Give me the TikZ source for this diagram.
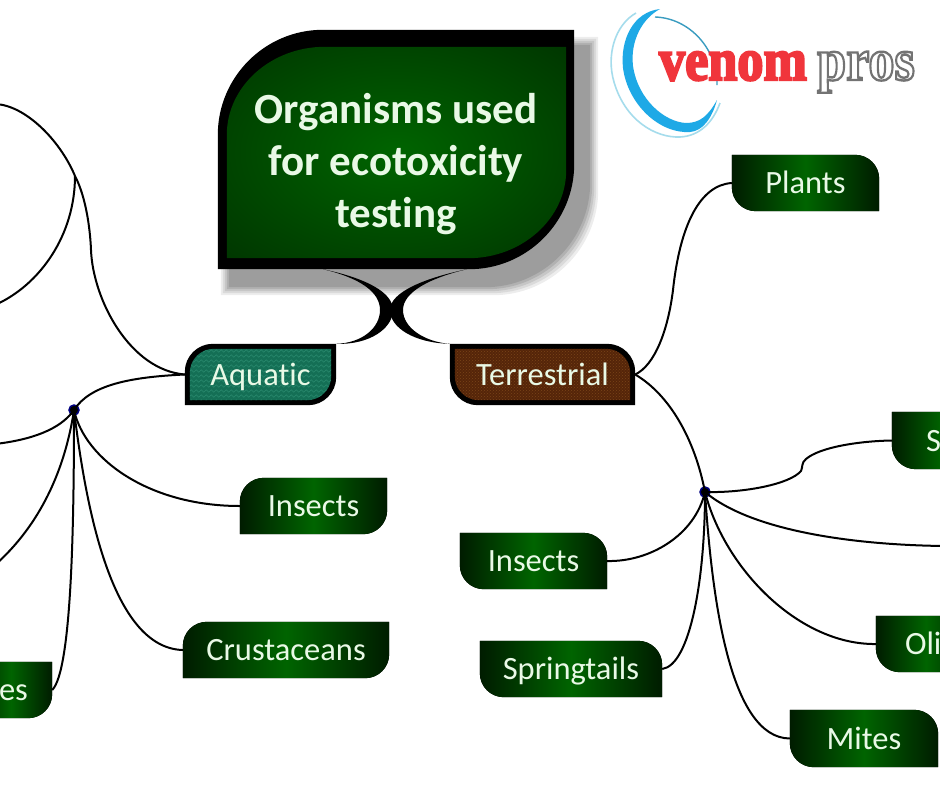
\documentclass[tikz,border=0pt]{standalone}
\usepackage{fontspec}
\usepackage{xcolor}
\usetikzlibrary{backgrounds, calc, patterns, decorations.pathmorphing}
\setmainfont[Ligatures=NoCommon]{Carlito}
\newfontfamily\logofont[FakeBold=4]{Liberation Serif}
\definecolor{leafbright}{HTML}{006400}
\definecolor{leafdark}{HTML}{002400}
\definecolor{leafedge}{HTML}{001C00}
\definecolor{leaftext}{HTML}{E9F9E6}
\definecolor{aquaticfill}{HTML}{146F55}
\definecolor{aquaticzig}{HTML}{2A8A6E}
\definecolor{terrafill}{HTML}{552509}
\definecolor{terradot}{HTML}{7A4418}
\definecolor{logoblue}{HTML}{1EA9E6}
\definecolor{logoteal}{HTML}{3A9CC0}
\definecolor{logolight}{HTML}{A5DCEC}
\definecolor{logored}{HTML}{F0353B}
\pgfdeclareradialshading{leafglow}{\pgfpointorigin}{color(0bp)=(leafbright); color(50bp)=(leafdark)}
% top left and bottom right corners round
\newcommand{\leafpathl}[4]{($(#1)+(0,#4)$) .. controls ($(#1)+(0,#4*.45)$) and ($(#1)+(#3*.45,0)$) .. ($(#1)+(#3,0)$) -- (#1 -| #2) -- ($(#2)+(0,-#4)$) .. controls ($(#2)+(0,-#4*.45)$) and ($(#2)+(-#3*.45,0)$) .. ($(#2)+(-#3,0)$) -- (#1 |- #2) -- cycle}
% top right and bottom left corners round
\newcommand{\leafpathr}[4]{(#1) -- ($(#1 -| #2)+(-#3,0)$) .. controls ($(#1 -| #2)+(-#3*.45,0)$) and ($(#1 -| #2)+(0,#4*.45)$) .. ($(#1 -| #2)+(0,#4)$) -- (#2) -- ($(#1 |- #2)+(#3,0)$) .. controls ($(#1 |- #2)+(#3*.45,0)$) and ($(#1 |- #2)+(0,-#4*.45)$) .. ($(#1 |- #2)+(0,-#4)$) -- cycle}
\begin{document}
\begin{tikzpicture}[x=1pt, y=-1pt,
  leaf/.style={minimum height=56pt, inner sep=0pt, text=leaftext, text height=27pt, text depth=6pt, font=\fontsize{32.5}{34}\selectfont},
  leaffill/.style={left color=leafedge, right color=leafedge, middle color=leafbright},
  link/.style={black, line width=2pt},
  hub/.style={circle, fill=black, draw=blue!50!black, line width=1.5pt, minimum size=10pt, inner sep=0pt},
  logotext/.style={inner sep=0pt, anchor=base, font=\logofont\bfseries\fontsize{60}{60}\selectfont, xscale=.87, transform shape}
]
\useasboundingbox (0,0) rectangle (940,788);
\clip (0,0) rectangle (940,788);

% leaves
\node[minimum width=356pt, minimum height=239pt, inner sep=0pt, align=center, text=leaftext, font=\bfseries\fontsize{43}{52}\selectfont] (title) at (396,149.5) {\rule{0pt}{60pt}Organisms used\\for ecotoxicity\\testing};
\node[leaf, minimum width=151pt, minimum height=61pt] (aquatic) at (260.5,374.5) {Aquatic};
\node[leaf, minimum width=185pt, minimum height=61pt] (terra) at (542.5,374.5) {Terrestrial};
\node[leaf, minimum width=147pt] (plants) at (805.5,183) {Plants};
\node[leaf, minimum width=147pt] (insa) at (313.5,506) {Insects};
\node[leaf, minimum width=206pt] (crust) at (286,650) {Crustaceans};
\node[leaf, minimum width=82pt, align=right, text width=24pt, inner xsep=29pt] (es) at (11,690) {es};
\node[leaf, minimum width=147pt] (insb) at (533.5,561) {Insects};
\node[leaf, minimum width=182pt] (spring) at (571,669) {Springtails};
\node[leaf, minimum width=148pt, minimum height=57pt] (mites) at (864,738.5) {Mites};
\node[leaf, minimum width=100pt, align=left, text width=42pt, inner xsep=29pt] (oli) at (926,644) {Oli};
\node[leaf, minimum width=100pt, align=left, text width=32pt, inner xsep=34pt, minimum height=57pt] (soil) at (942,440.5) {S};

\coordinate (titlenw) at ($(title.north west)+(9,17)$);
\coordinate (titlese) at ($(title.south east)+(-8,-11)$);
\coordinate (aquanw) at ($(aquatic.north west)+(5,5)$);
\coordinate (aquase) at ($(aquatic.south east)+(-5,-5)$);
\coordinate (terranw) at ($(terra.north west)+(5,5)$);
\coordinate (terrase) at ($(terra.south east)+(-5,-5)$);

% fills
\begin{scope}[on background layer]
\fill[white] (0,0) rectangle (940,788);
\foreach \s/\o in {0/.07,2/.08,4/.09,6/.10,8/.11} {
  \coordinate (shadenw) at ($(title.north west)+(3+\s,7+\s)$);
  \coordinate (shadese) at ($(title.south east)+(24-\s,26-\s)$);
  \fill[black, opacity=\o] \leafpathl{shadenw}{shadese}{105}{105};
}
\fill[black] \leafpathl{title.north west}{title.south east}{105}{105};
\fill[shading=leafglow] \leafpathl{titlenw}{titlese}{98}{88};
\foreach \n in {insa,crust,es} {
  \fill[leaffill] \leafpathl{\n.north west}{\n.south east}{24}{24};
}
\foreach \n in {plants,insb,spring,mites,oli,soil} {
  \fill[leaffill] \leafpathr{\n.north west}{\n.south east}{24}{24};
}
\fill[black] \leafpathl{aquatic.north west}{aquatic.south east}{28}{28};
\fill[aquaticfill] \leafpathl{aquanw}{aquase}{24}{24};
\begin{scope}
\clip \leafpathl{aquanw}{aquase}{24}{24};
\foreach \y in {346,351,...,406} {
  \draw[aquaticzig, line width=.6pt, decorate, decoration={zigzag, amplitude=1.3pt, segment length=5pt}] (180,\y) -- (340,\y);
}
\end{scope}
\fill[black] \leafpathr{terra.north west}{terra.south east}{28}{28};
\fill[terrafill] \leafpathr{terranw}{terrase}{24}{24};
\fill[pattern=crosshatch dots, pattern color=terradot] \leafpathr{terranw}{terrase}{24}{24};
\end{scope}

% stems from the title
\fill[black] ([xshift=-73pt]title.south) .. controls (365,278) and (393,292) .. (393,310) .. controls (393,328) and (370,345) .. (aquatic.north east) .. controls (362,343) and (380,328) .. (380,310) .. controls (380,292) and (360,278) .. ([xshift=-73pt]title.south) -- cycle;
\fill[black] ([xshift=71pt]title.south) .. controls (425,278) and (390,292) .. (390,310) .. controls (390,328) and (415,343) .. (terra.north west) .. controls (425,342) and (403,328) .. (403,310) .. controls (403,292) and (430,278) .. ([xshift=71pt]title.south) -- cycle;

% hubs
\node[hub] (huba) at (74,410) {};
\node[hub] (hubt) at (705,492) {};
\coordinate (forka) at (75,176);
\coordinate (offa) at (-5,104);
\coordinate (offb) at (-5,305);
\coordinate (offc) at (-5,444);
\coordinate (offd) at (-5,565);
\coordinate (offe) at (945,546);

% left side
\draw[link] (aquatic.west) .. controls (130,370) and (93,300) .. (91,250) .. controls (90,225) and (85,195) .. (forka);
\draw[link] (offa) .. controls (25,105) and (60,140) .. (forka);
\draw[link] (offb) .. controls (40,285) and (75,235) .. (forka);
\draw[link] (aquatic.west) .. controls (130,377) and (90,385) .. (huba.center);
\draw[link] (huba.center) .. controls (60,430) and (30,440) .. (offc);
\draw[link] (huba.center) .. controls (65,470) and (40,525) .. (offd);
\draw[link] (huba.center) .. controls (74,520) and (72,670) .. (es.east);
\draw[link] (huba.center) .. controls (85,460) and (150,506) .. (insa.west);
\draw[link] (huba.center) .. controls (85,500) and (110,648) .. (crust.west);

% right side
\draw[link] (terra.east) .. controls (655,365) and (668,330) .. (673,290) .. controls (680,225) and (700,185) .. (plants.west);
\draw[link] (terra.east) .. controls (670,395) and (695,440) .. (hubt.center);
\draw[link] (hubt.center) .. controls (745,493) and (790,484) .. (801,471) .. controls (803,467) and (801,463) .. (806,459) .. controls (820,447) and (860,441) .. (soil.west);
\draw[link] (hubt.center) .. controls (750,530) and (850,545) .. (offe);
\draw[link] (hubt.center) .. controls (725,570) and (800,645) .. (oli.west);
\draw[link] (hubt.center) .. controls (712,600) and (730,738) .. (mites.west);
\draw[link] (hubt.center) .. controls (705,580) and (690,665) .. (spring.east);
\draw[link] (hubt.center) .. controls (695,535) and (650,562) .. (insb.east);

% logo
\draw[logolight, line width=1.6pt] (636,13) .. controls (615,25) and (606,55) .. (614,82) .. controls (625,120) and (655,138) .. (680,137) .. controls (700,136) and (713,122) .. (720,103);
\fill[logoblue] (660,9) .. controls (633,12) and (620,40) .. (623,68) .. controls (628,105) and (660,134) .. (690,132) .. controls (703,131) and (712,118) .. (717,100) .. controls (708,116) and (700,123) .. (686,123) .. controls (665,122) and (638,100) .. (633,66) .. controls (630,40) and (643,18) .. (660,9) -- cycle;
\draw[logoteal, line width=1.4pt] (655,17) .. controls (690,18) and (718,50) .. (717,85);
\node[logotext, text=logored] (venom) at (733,80) {venom};
\node[logotext, text=white] (pros) at (866,80) {\special{pdf:code 1 Tr 0.9 w 0.45 G}pros\special{pdf:code 0 Tr 0 G}};
\end{tikzpicture}
\end{document}
